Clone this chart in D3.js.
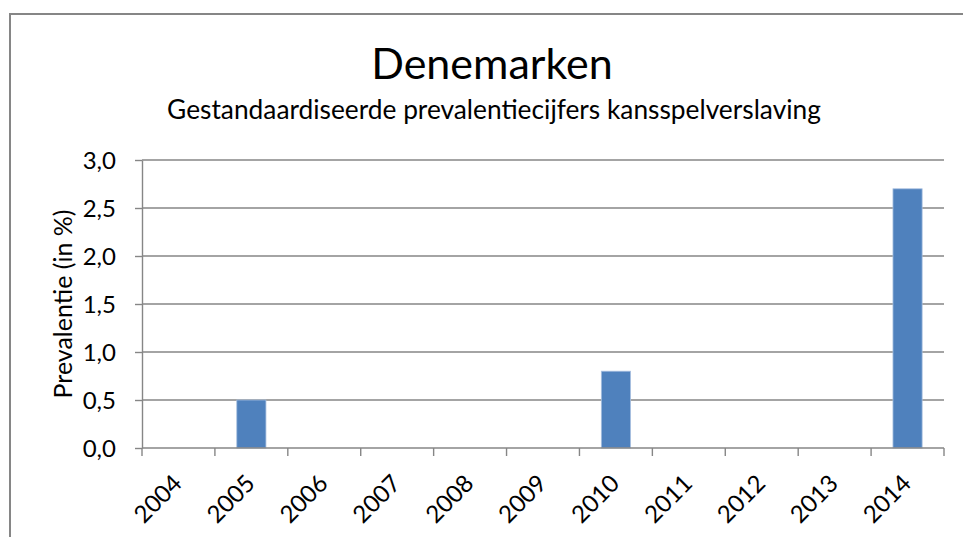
<!DOCTYPE html>
<html>
<head>
<meta charset="utf-8">
<script src="https://cdn.jsdelivr.net/npm/d3@7"></script>
<style>
  html, body { margin: 0; padding: 0; background: #fff; }
  svg { display: block; font-family: Lato, "Open Sans", sans-serif; }
  .tick text { fill: #000; }
</style>
</head>
<body>
<svg id="chart" width="963" height="537"></svg>
<script>
/* global d3 */

const years = ["2004", "2005", "2006", "2007", "2008", "2009", "2010", "2011", "2012", "2013", "2014"];
const prevalence = [null, 0.5, null, null, null, null, 0.8, null, null, null, 2.7];
const yTicks = [0, 0.5, 1, 1.5, 2, 2.5, 3];

const titleText = "Denemarken";
const subtitleText = "Gestandaardiseerde prevalentiecijfers kansspelverslaving";
const yTitleText = "Prevalentie (in %)";

const width = 963;
const height = 537;
const plot = { left: 142, right: 944, top: 160, bottom: 448 };
const gridColor = "#868686";

const svg = d3.select("#chart");
const decimalFormat = (v) => d3.format(".1f")(v).replace(".", ",");

// chart frame, runs off the right and bottom edges like the original
svg.append("rect")
  .attr("x", 10).attr("y", 14)
  .attr("width", width + 20).attr("height", height + 20)
  .attr("fill", "none").attr("stroke", gridColor).attr("stroke-width", 2);

const x = d3.scaleBand()
  .domain(years)
  .range([plot.left, plot.right])
  .paddingInner(0.6)
  .paddingOuter(0.3);
const step = x.step();

const y = d3.scaleLinear().domain([0, 3]).range([plot.bottom, plot.top]);

// gridlines
svg.append("g")
  .selectAll("line")
  .data(yTicks.filter((d) => d > 0))
  .join("line")
  .attr("x1", plot.left).attr("x2", plot.right)
  .attr("y1", (d) => y(d)).attr("y2", (d) => y(d))
  .attr("stroke", gridColor).attr("stroke-width", 1.4);

// bars
svg.append("g")
  .selectAll("rect")
  .data(years.map((year, i) => ({ year, value: prevalence[i] })).filter((d) => d.value != null))
  .join("rect")
  .attr("x", (d) => x(d.year))
  .attr("width", x.bandwidth())
  .attr("y", (d) => y(d.value))
  .attr("height", (d) => y(0) - y(d.value))
  .attr("fill", "#4f81bd")
  .attr("stroke", "#a7bfdf")
  .attr("stroke-width", 0.8);

// y axis
const yAxis = svg.append("g")
  .attr("transform", `translate(${plot.left},0)`)
  .call(d3.axisLeft(y).tickValues(yTicks).tickFormat(decimalFormat).tickSize(7).tickSizeOuter(0).tickPadding(19));
yAxis.select(".domain").attr("stroke", gridColor).attr("stroke-width", 1.4);
yAxis.selectAll(".tick line").attr("stroke", gridColor).attr("stroke-width", 1.4);
yAxis.selectAll(".tick text").attr("font-size", 24).attr("font-family", "Lato").attr("dy", "0.36em");

// x axis: ticks sit on the category boundaries
const xAxis = svg.append("g");
xAxis.append("line")
  .attr("x1", plot.left).attr("x2", plot.right)
  .attr("y1", plot.bottom).attr("y2", plot.bottom)
  .attr("stroke", gridColor).attr("stroke-width", 1.4);
xAxis.selectAll("line.tk")
  .data(d3.range(years.length + 1))
  .join("line")
  .attr("class", "tk")
  .attr("x1", (i) => plot.left + i * step).attr("x2", (i) => plot.left + i * step)
  .attr("y1", plot.bottom).attr("y2", plot.bottom + 8)
  .attr("stroke", gridColor).attr("stroke-width", 1.4);
xAxis.selectAll("text")
  .data(years)
  .join("text")
  .attr("transform", (d) => `translate(${x(d) + x.bandwidth() / 2 + 5},${plot.bottom + 37}) rotate(-45)`)
  .attr("text-anchor", "end")
  .attr("font-size", 24)
  .text((d) => d);

// titles
svg.append("text")
  .attr("x", 492).attr("y", 79)
  .attr("text-anchor", "middle")
  .attr("font-size", 43)
  .text(titleText);
svg.append("text")
  .attr("x", 494).attr("y", 119)
  .attr("text-anchor", "middle")
  .attr("font-size", 26.3)
  .text(subtitleText);

svg.append("text")
  .attr("transform", `translate(72,${(plot.top + plot.bottom) / 2}) rotate(-90)`)
  .attr("text-anchor", "middle")
  .attr("font-size", 25)
  .text(yTitleText);
</script>
</body>
</html>
